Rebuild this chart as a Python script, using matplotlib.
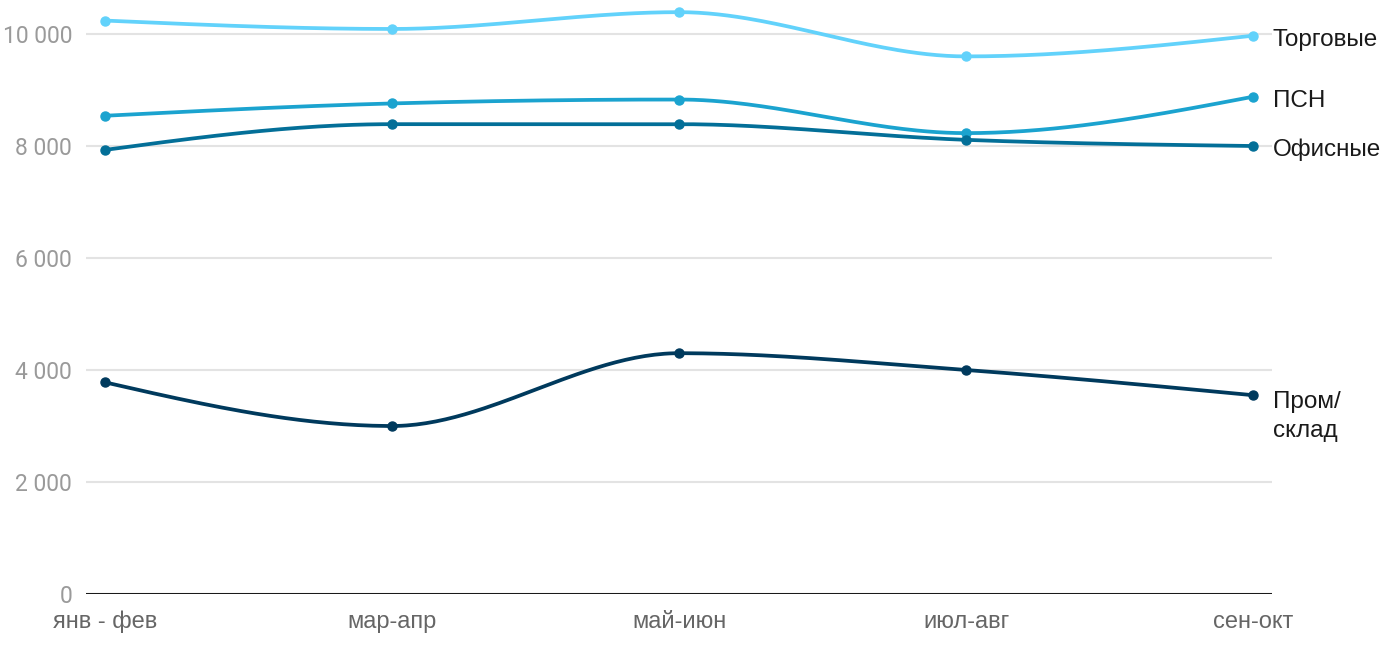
import numpy as np
import matplotlib.pyplot as plt

periods = ["янв - фев", "мар-апр", "май-июн", "июл-авг", "сен-окт"]
torgovye = [10240, 10090, 10390, 9600, 9970]
psn = [8540, 8760, 8830, 8230, 8880]
ofisnye = [7930, 8390, 8390, 8110, 8000]
prom = [3780, 3000, 4300, 4000, 3550]

series = [
    ("Торговые", torgovye, "#62d2fb"),
    ("ПСН", psn, "#1ba3cf"),
    ("Офисные", ofisnye, "#036f98"),
    ("Пром/\nсклад", prom, "#003a5d"),
]
yticks = [0, 2000, 4000, 6000, 8000, 10000]


def monotone_curve(x, y, n=60):
    # same idea as d3.curveMonotoneX
    x = np.asarray(x, float)
    y = np.asarray(y, float)
    h = np.diff(x)
    s = np.diff(y) / h
    m = np.zeros_like(y)
    for i in range(1, len(y) - 1):
        s0, s1 = s[i - 1], s[i]
        p = (s0 * h[i] + s1 * h[i - 1]) / (h[i - 1] + h[i])
        m[i] = (np.sign(s0) + np.sign(s1)) * min(abs(s0), abs(s1), 0.5 * abs(p))
    m[0] = (3 * s[0] - m[1]) / 2
    m[-1] = (3 * s[-1] - m[-2]) / 2
    xs, ys = [], []
    for i in range(len(x) - 1):
        t = np.linspace(0, 1, n)
        h00 = 2 * t**3 - 3 * t**2 + 1
        h10 = t**3 - 2 * t**2 + t
        h01 = -2 * t**3 + 3 * t**2
        h11 = t**3 - t**2
        xs.append(x[i] + t * h[i])
        ys.append(h00 * y[i] + h10 * h[i] * m[i] + h01 * y[i + 1] + h11 * h[i] * m[i + 1])
    return np.concatenate(xs), np.concatenate(ys)


fig = plt.figure(figsize=(14, 6.5), dpi=100)
ax = fig.add_axes([86 / 1400, 1 - 594 / 650, (1272 - 86) / 1400, 588 / 650])

x = np.arange(len(periods))
for name, vals, color in series:
    cx, cy = monotone_curve(x, vals)
    ax.plot(cx, cy, color=color, lw=2.7, solid_capstyle="round", zorder=3)
    ax.plot(x, vals, "o", color=color, ms=6.5, zorder=4)
    multi = "\n" in name
    ax.annotate(name, (x[-1], vals[-1]), xytext=(14, 3 if multi else -3),
                textcoords="offset points",
                ha="left", va="top" if multi else "center",
                fontsize=17.5, family="Liberation Sans", color="#1a1a1a",
                linespacing=1.4, annotation_clip=False)

ax.set_xlim(-0.066, 4.066)
ax.set_ylim(0, 10500)
ax.set_yticks(yticks)
ax.set_yticklabels([f"{v:,}".replace(",", " ") for v in yticks],
                   family="Roboto", fontsize=16.5, color="#9a9a9a")
ax.set_xticks(x)
ax.set_xticklabels(periods, family="Liberation Sans", fontsize=17, color="#666666")
ax.tick_params(length=0)
ax.tick_params(axis="y", pad=10)
ax.tick_params(axis="x", pad=12)

for v in yticks[1:]:
    ax.axhline(v, color="#e3e3e3", lw=1.5, zorder=1)
ax.axhline(0, color="#1a1a1a", lw=2.2, zorder=2)
for sp in ax.spines.values():
    sp.set_visible(False)

fig.savefig("out.png", dpi=100)
